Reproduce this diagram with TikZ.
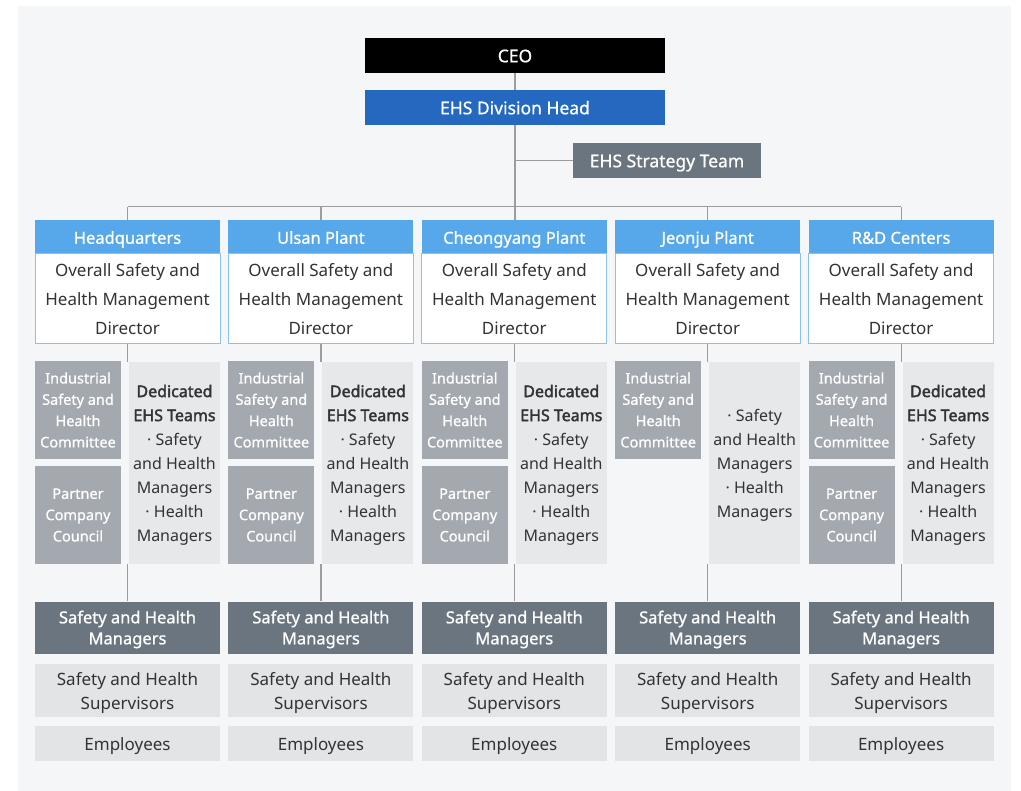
\documentclass[tikz,border=0pt]{standalone}
\usepackage{fontspec}
\setmainfont{Noto Sans}
\newfontfamily\negrita{Noto Sans}[FakeBold=2.2]
\newfontfamily\medio{Noto Sans}[FakeBold=0.9]
\usetikzlibrary{backgrounds}

\definecolor{fondo}{HTML}{F5F6F8}
\definecolor{azuldiv}{HTML}{2468C0}
\definecolor{azulsede}{HTML}{56A8EA}
\definecolor{grisosc}{HTML}{6B7580}
\definecolor{grismed}{HTML}{A4A9AF}
\definecolor{grisclaro}{HTML}{E7E8EA}
\definecolor{grissup}{HTML}{E3E4E6}
\definecolor{gristxt}{HTML}{333333}
\definecolor{grislinea}{HTML}{9C9C9C}

\tikzset{
  caja/.style={rectangle, inner sep=0pt, align=center, minimum width=185pt},
  cabeza/.style={caja, text=white, minimum height=35pt, text height=15pt, text depth=1.5pt, font=\medio\fontsize{17.5}{20}\selectfont},
  sede/.style={caja, fill=azulsede, text=white, minimum height=34pt, text height=15pt, text depth=1.5pt, font=\medio\fontsize{16.5}{20}\selectfont},
  director/.style={caja, draw=azulsede!70, line width=1pt, fill=white, text=gristxt, minimum height=90pt, font=\fontsize{17}{29}\selectfont},
  comite/.style={caja, fill=grismed, text=white, minimum width=86pt, minimum height=98pt, font=\medio\fontsize{14.5}{21.3}\selectfont},
  equipo/.style={caja, fill=grisclaro, text=gristxt, minimum width=91pt, minimum height=202pt, text depth=0pt, font=\fontsize{16}{24}\selectfont},
  gerente/.style={caja, fill=grisosc, text=white, minimum height=52pt, text depth=0pt, font=\medio\fontsize{16.5}{21}\selectfont},
  supervisor/.style={caja, fill=grissup, text=gristxt, minimum height=53pt, text depth=0pt, font=\fontsize{17}{24}\selectfont},
  empleado/.style={caja, fill=grissup, text=gristxt, minimum height=35pt, text height=15pt, text depth=1.5pt, font=\fontsize{17}{24}\selectfont},
  linea/.style={draw=grislinea, line width=1.2pt}
}

\begin{document}
\begin{tikzpicture}[x=1pt, y=-1pt]
  \useasboundingbox (0,0) rectangle (1021,791);
  \begin{pgfonlayer}{background}
    \fill[fondo] (18,6) rectangle (1011,791);
  \end{pgfonlayer}
  % la direccion
  \node[cabeza, fill=black, minimum width=300pt] (ceo) at (515,55.5) {CEO};
  \node[cabeza, fill=azuldiv, minimum width=300pt] (jefe) at (515,107.5) {EHS Division Head};
  \node[cabeza, fill=grisosc, minimum width=188pt] (estrategia) at (667,160.5) {EHS Strategy Team};
  % las sedes, columna por columna
  \foreach \nom [count=\i] in {Headquarters, Ulsan Plant, Cheongyang Plant, Jeonju Plant, R\&D Centers} {
    \pgfmathsetmacro\cx{127.5+193.4*(\i-1)}
    \node[sede] (sede\i) at (\cx,237) {\nom};
    \node[director] (dir\i) at (\cx,299) {Overall Safety and\\Health Management\\Director};
    \node[comite] (comite\i) at (\cx-49.5,410) {Industrial\\Safety and\\Health\\Committee};
    \node[gerente] (ger\i) at (\cx,627.5) {Safety and Health\\Managers};
    \node[supervisor] (sup\i) at (\cx,690.5) {Safety and Health\\Supervisors};
    \node[empleado] (emp\i) at (\cx,743.5) {Employees};
  }
  % consejos y equipos dedicados (Jeonju aparte)
  \foreach \i in {1,2,3,5} {
    \pgfmathsetmacro\cx{127.5+193.4*(\i-1)}
    \node[comite] (socio\i) at (\cx-49.5,515) {Partner\\Company\\Council};
    \node[equipo] (equipo\i) at (\cx+47,463) {{\negrita Dedicated}\\{\negrita EHS Teams}\\·~Safety\\and Health\\Managers\\·~Health\\Managers};
  }
  \node[equipo] (equipo4) at (754.7,463) {·~Safety\\and Health\\Managers\\·~Health\\Managers};
  % las lineas, por debajo
  \begin{pgfonlayer}{background}
    \draw[linea] (ceo) -- (jefe);
    \draw[linea] (jefe.south) -- (jefe.south |- sede3.north);
    \draw[linea] (estrategia.west) -- (estrategia.west -| jefe.south);
    \draw[linea] ([yshift=13pt]sede1.north) -- ([yshift=13pt]sede5.north);
    \foreach \i in {1,...,5} {
      \draw[linea] (sede\i.north) -- ++(0,-13);
      \draw[linea] (dir\i.south) -- (dir\i.south |- equipo\i.north);
      \draw[linea] (ger\i.north) -- (ger\i.north |- equipo\i.south);
    }
  \end{pgfonlayer}
\end{tikzpicture}
\end{document}
